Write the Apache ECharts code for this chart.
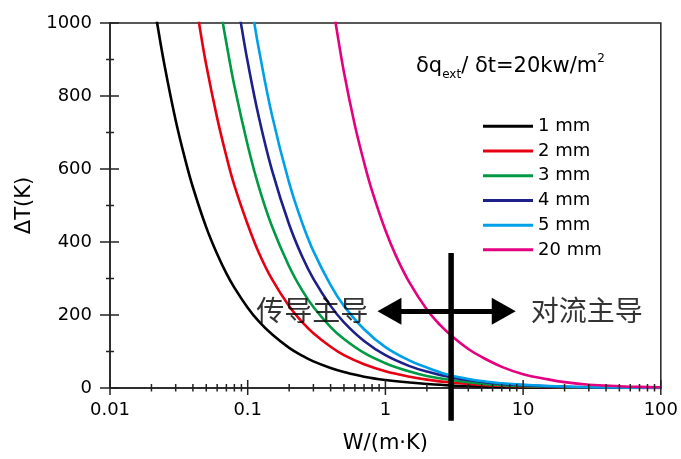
<!DOCTYPE html>
<html><head><meta charset="utf-8">
<script src="https://cdn.jsdelivr.net/npm/echarts@6/dist/echarts.min.js"></script>
<style>html,body{margin:0;padding:0;background:#fff}#c{width:681px;height:459px}</style>
</head><body><div id="c"></div>
<script>
// ---- data ----
const seriesNames = ['1 mm', '2 mm', '3 mm', '4 mm', '5 mm', '20 mm'];
const seriesColors = ['#000000', '#E60012', '#009944', '#1D2088', '#00A0E9', '#E4007F'];

const x1 = [0.02,0.022,0.025,0.03,0.035,0.04,0.05,0.06,0.07,0.08,0.1,0.12,0.15,0.2,0.25,0.3,0.4,0.5,0.7,1,1.5,2,3,5,7,10,20,50,100];
const y1 = [1100,1000,880,733,629,550,440,367,314,275,220,183,147,110,88,73,55,44,31,22,15,11,7,4.4,3,2.2,1.1,0.4,0.2];

const x2 = [0.04,0.045,0.05,0.06,0.07,0.08,0.1,0.12,0.15,0.2,0.25,0.3,0.4,0.5,0.7,1,1.5,2,3,5,7,10,20,50,100];
const y2 = [1110,985,885,740,635,555,448,372,298,224,180,150,113,90,65,46,31,23,15,8.5,6,4,2,0.8,0.4];

const x3 = [0.06,0.065,0.07,0.08,0.1,0.12,0.15,0.2,0.25,0.3,0.4,0.5,0.7,1,1.5,2,3,5,7,10,20,50,100];
const y3 = [1100,1015,945,828,665,553,443,333,266,222,167,134,96,68,45,33,22,12,8,5.5,2.5,1,0.5];

const x4 = [0.08,0.09,0.1,0.12,0.15,0.2,0.25,0.3,0.4,0.5,0.7,1,1.5,2,3,5,7,10,20,50,100];
const y4 = [1115,992,893,745,597,448,358,299,225,180,129,90,60,45,29,17,11,8,3.5,1.2,0.5];

const x5 = [0.1,0.11,0.12,0.15,0.2,0.25,0.3,0.4,0.5,0.7,1,1.5,2,3,5,7,10,20,50,100];
const y5 = [1115,1015,932,748,562,450,375,282,225,161,112,75,56,34,19,13,9,4,1.5,0.6];

const x6 = [0.4,0.435,0.5,0.6,0.7,0.8,1,1.2,1.5,2,2.5,3,4,5,7,10,15,20,30,50,70,100];
const y6 = [1085,1000,865,720,618,540,432,360,288,215,172,144,107,85,58,38,24,16,9,5,3,2];

const xValues = [x1, x2, x3, x4, x5, x6];
const yValues = [y1, y2, y3, y4, y5, y6];

const xMajorTicks = [0.01, 0.1, 1, 10, 100];
const xMinorTicks = [0.02,0.03,0.04,0.05,0.06,0.07,0.08,0.09,
                     0.2,0.3,0.4,0.5,0.6,0.7,0.8,0.9,
                     2,3,4,5,6,7,8,9,
                     20,30,40,50,60,70,80,90];
const yMajorTicks = [0, 200, 400, 600, 800, 1000];
const yMinorTicks = [100, 300, 500, 700, 900];

const dividerX = 3;
const dividerY = [370, -90];
const arrowY = 210;
const arrowX = [1.07, 7.23];
const regionLabels = [
  { name: '传导主导', x: 0.294, y: 213 },
  { name: '对流主导', x: 28.97, y: 213 }
];

// ---- chart ----
const latin = 'DejaVu Sans';
const axisColor = '#222';
const chart = echarts.init(document.getElementById('c'));

const curveSeries = seriesNames.map((n, i) => ({
  name: n,
  type: 'line',
  data: xValues[i].map((x, j) => [x, yValues[i][j]]),
  symbol: 'none',
  showSymbol: false,
  smooth: 0.4,
  clip: true,
  color: seriesColors[i],
  lineStyle: { width: 2.6, color: seriesColors[i] },
  z: 3
}));

const xTickData = xMajorTicks.map(v => [v, 0, 1]).concat(xMinorTicks.map(v => [v, 0, 0]));
const yTickData = yMajorTicks.map(v => [0.01, v, 1]).concat(yMinorTicks.map(v => [0.01, v, 0]));

const option = {
  animation: false,
  backgroundColor: '#fff',
  grid: { left: 110, right: 19, top: 23, bottom: 69, show: true, borderColor: axisColor, borderWidth: 1.5, backgroundColor: 'transparent' },
  title: {
    text: '{a|δq}{b|ext}{a|/ δt=20kw/m}{c|2}',
    left: 411, top: 48,
    textStyle: {
      fontWeight: 'normal',
      rich: {
        a: { fontFamily: latin, fontWeight: 'normal', fontSize: 21, color: '#000', lineHeight: 28 },
        b: { fontFamily: latin, fontWeight: 'normal', fontSize: 12, color: '#000', lineHeight: 28, verticalAlign: 'bottom' },
        c: { fontFamily: latin, fontWeight: 'normal', fontSize: 12, color: '#000', lineHeight: 28, verticalAlign: 'top' }
      }
    }
  },
  legend: {
    data: seriesNames,
    orient: 'vertical',
    left: 478, top: 109,
    itemWidth: 50, itemHeight: 3, itemGap: 0,
    icon: 'rect',
    textStyle: { fontFamily: latin, fontSize: 18, color: '#000', lineHeight: 24.7 }
  },
  xAxis: {
    type: 'log', logBase: 10, min: 0.01, max: 100,
    name: 'W/(m·K)', nameLocation: 'middle', nameGap: 45,
    nameTextStyle: { fontFamily: latin, fontSize: 21, color: '#000' },
    axisLine: { lineStyle: { color: axisColor, width: 1.5 } },
    axisTick: { show: false },
    minorTick: { show: false },
    splitLine: { show: false },
    axisLabel: {
      margin: 13, fontFamily: latin, fontSize: 18, color: '#000',
      formatter: v => String(+(+v).toPrecision(3))
    }
  },
  yAxis: {
    type: 'value', min: 0, max: 1000, interval: 200,
    name: 'ΔT(K)', nameLocation: 'middle', nameGap: 73,
    nameTextStyle: { fontFamily: latin, fontSize: 21, color: '#000' },
    axisLine: { show: true, lineStyle: { color: axisColor, width: 1.5 } },
    axisTick: { show: false },
    splitLine: { show: false },
    axisLabel: { margin: 18, fontFamily: latin, fontSize: 18, color: '#000', formatter: v => String(v) }
  },
  series: curveSeries.concat([
    {
      name: 'xticks', type: 'custom', clip: false, silent: true, z: 4,
      data: xTickData,
      encode: { x: 0, y: 1 },
      renderItem: (params, api) => {
        const p = api.coord([api.value(0), 0]);
        const major = api.value(2) === 1;
        const up = major ? 8 : 4, down = major ? 7 : 3.5;
        return { type: 'line', shape: { x1: p[0], y1: p[1] - up, x2: p[0], y2: p[1] + down },
                 style: { stroke: axisColor, lineWidth: 1.5 } };
      }
    },
    {
      name: 'yticks', type: 'custom', clip: false, silent: true, z: 4,
      data: yTickData,
      encode: { x: 0, y: 1 },
      renderItem: (params, api) => {
        const p = api.coord([0.01, api.value(1)]);
        const major = api.value(2) === 1;
        const left = major ? 10 : 4, right = major ? 9 : 4;
        return { type: 'line', shape: { x1: p[0] - left, y1: p[1], x2: p[0] + right, y2: p[1] },
                 style: { stroke: axisColor, lineWidth: 1.5 } };
      }
    },
    {
      name: 'divider', type: 'line', clip: false, silent: true, z: 6,
      data: dividerY.map(y => [dividerX, y]),
      symbol: 'none',
      lineStyle: { width: 5.5, color: '#000' },
      markLine: {
        silent: true,
        symbol: ['triangle', 'triangle'],
        symbolSize: [27, 24],
        label: { show: false },
        lineStyle: { type: 'solid', width: 5, color: '#000' },
        data: [[{ coord: [arrowX[0], arrowY] }, { coord: [arrowX[1], arrowY] }]]
      }
    },
    {
      name: 'labels', type: 'scatter', silent: true, z: 7,
      symbolSize: 1,
      itemStyle: { color: 'rgba(0,0,0,0)' },
      data: regionLabels.map(d => ({ name: d.name, value: [d.x, d.y] })),
      label: {
        show: true, position: 'inside', formatter: '{b}',
        fontFamily: 'Noto Sans CJK SC', fontSize: 28, color: '#000'
      }
    }
  ])
};
chart.setOption(option);
</script>
</body></html>
